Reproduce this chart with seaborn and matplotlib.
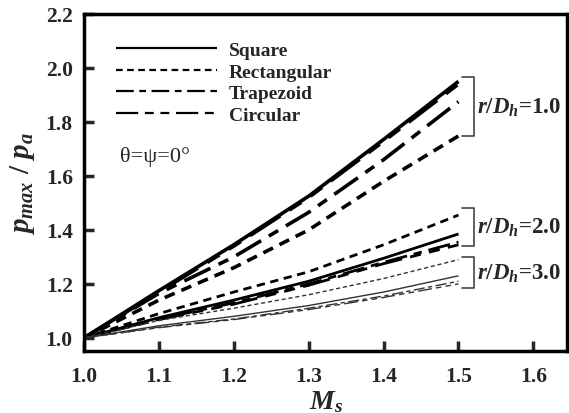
import matplotlib
matplotlib.use("Agg")
import matplotlib.pyplot as plt
import seaborn as sns
import pandas as pd

sns.set_theme(style="white")
plt.rcParams['font.family'] = ['Liberation Serif', 'DejaVu Serif']
plt.rcParams['mathtext.fontset'] = 'custom'
plt.rcParams['mathtext.rm'] = 'Liberation Serif:bold'
plt.rcParams['mathtext.it'] = 'Liberation Serif:italic:bold'
plt.rcParams['mathtext.bf'] = 'Liberation Serif:bold'

ms = [1.0, 1.1, 1.2, 1.3, 1.4, 1.5]
shapes = ["Square", "Rectangular", "Trapezoid", "Circular"]
ratios = ["1.0", "2.0", "3.0"]

# r/Dh = 1.0
sq_1 = [1.0, 1.175, 1.345, 1.525, 1.735, 1.950]
re_1 = [1.0, 1.140, 1.260, 1.400, 1.580, 1.748]
tr_1 = [1.0, 1.165, 1.300, 1.465, 1.660, 1.875]
ci_1 = [1.0, 1.170, 1.340, 1.520, 1.728, 1.940]
# r/Dh = 2.0
sq_2 = [1.0, 1.075, 1.140, 1.210, 1.295, 1.385]
re_2 = [1.0, 1.090, 1.170, 1.245, 1.345, 1.455]
tr_2 = [1.0, 1.070, 1.130, 1.200, 1.280, 1.355]
ci_2 = [1.0, 1.068, 1.125, 1.195, 1.275, 1.345]
# r/Dh = 3.0
sq_3 = [1.0, 1.045, 1.080, 1.120, 1.170, 1.230]
re_3 = [1.0, 1.065, 1.110, 1.160, 1.220, 1.290]
tr_3 = [1.0, 1.040, 1.070, 1.110, 1.155, 1.210]
ci_3 = [1.0, 1.038, 1.068, 1.105, 1.150, 1.200]

series = {
    ("Square", "1.0"): sq_1, ("Rectangular", "1.0"): re_1,
    ("Trapezoid", "1.0"): tr_1, ("Circular", "1.0"): ci_1,
    ("Square", "2.0"): sq_2, ("Rectangular", "2.0"): re_2,
    ("Trapezoid", "2.0"): tr_2, ("Circular", "2.0"): ci_2,
    ("Square", "3.0"): sq_3, ("Rectangular", "3.0"): re_3,
    ("Trapezoid", "3.0"): tr_3, ("Circular", "3.0"): ci_3,
}

styles = {
    "Square": (0, ()),
    "Rectangular": (0, (3.0, 2.0)),
    "Trapezoid": (0, (8, 2.5, 3, 2.5)),
    "Circular": (0, (10, 3, 4, 3, 4, 3)),
}
widths = {"1.0": 2.6, "2.0": 2.0, "3.0": 1.0}
colors = {"1.0": "black", "2.0": "black", "3.0": "#333333"}

fig = plt.figure(figsize=(5.69, 4.14), dpi=100)
ax = fig.add_axes([0.1476, 0.150, 0.849, 0.814])

for r in ratios:
    for s in shapes:
        df = pd.DataFrame({"Ms": ms, "p": series[(s, r)]})
        sns.lineplot(data=df, x="Ms", y="p", ax=ax, color=colors[r],
                     linewidth=widths[r], linestyle=styles[s],
                     label=s if r == "1.0" else None, legend=False)

ax.set_xlim(1.0, 1.645)
ax.set_ylim(0.952, 2.2)
ax.set_xticks([1.0, 1.1, 1.2, 1.3, 1.4, 1.5, 1.6])
ax.set_yticks([1.0, 1.2, 1.4, 1.6, 1.8, 2.0, 2.2])
ax.set_xticklabels(["1.0", "1.1", "1.2", "1.3", "1.4", "1.5", "1.6"])
ax.set_yticklabels(["1.0", "1.2", "1.4", "1.6", "1.8", "2.0", "2.2"])
ax.tick_params(axis='both', direction='in', length=7, width=2.5,
               labelsize=15.5, bottom=True, left=True, top=False, right=False)
ax.tick_params(axis='x', pad=11)
ax.tick_params(axis='y', pad=8)
for lab in ax.get_xticklabels() + ax.get_yticklabels():
    lab.set_fontweight('bold')
for sp in ax.spines.values():
    sp.set_linewidth(2.5)
    sp.set_color('black')

ax.set_xlabel(r"$M_s$", fontsize=20)
ax.xaxis.set_label_coords(0.5, -0.112)
ax.set_ylabel(r"$p_{max}\ /\ p_a$", fontsize=21)
ax.yaxis.set_label_coords(-0.097, 0.5)

# legend
handles, labels = ax.get_legend_handles_labels()
leg = ax.legend(handles, labels, loc='upper left', bbox_to_anchor=(0.066, 0.918),
                frameon=False, handlelength=5.2, handletextpad=0.6,
                labelspacing=0.2, borderpad=0, borderaxespad=0,
                prop={'family': 'Liberation Serif', 'weight': 'bold', 'size': 14})
for h in leg.get_lines():
    h.set_linewidth(1.6)
    h.set_color('black')

ax.text(1.048, 1.674, "θ=ψ=0°", fontsize=16, ha='left', va='center')

# brackets
brackets = [("1.0", 1.966, 1.748), ("2.0", 1.48, 1.34), ("3.0", 1.30, 1.185)]
for lab, top, bot in brackets:
    ax.plot([1.505, 1.521, 1.521, 1.505], [top, top, bot, bot], color='#444444', lw=1.2)
    ax.text(1.525, (top + bot) / 2, r"$r/D_h$" + "=" + lab, fontsize=16.5,
            fontweight='bold', ha='left', va='center')

fig.savefig("out.png", dpi=100)
